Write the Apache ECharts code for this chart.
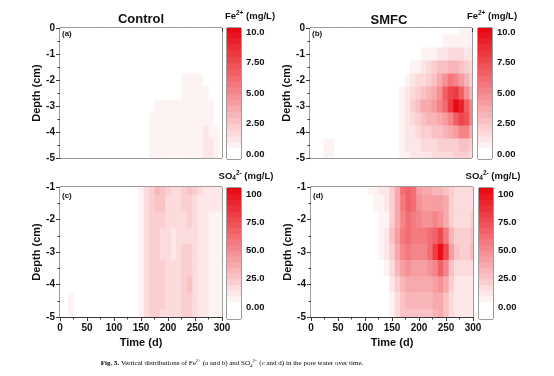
<!DOCTYPE html>
<html>
<head>
<meta charset="utf-8">
<script src="https://cdn.jsdelivr.net/npm/echarts@6/dist/echarts.min.js"></script>
<style>
html, body { margin: 0; padding: 0; background: #fff; }
#main { width: 554px; height: 376px; }
</style>
</head>
<body>
<div id="main"></div>
<script>
// sampling grid (time in days, depth in cm)
var times = [0, 10, 20, 30, 40, 50, 60, 70, 80, 90, 100, 110, 120, 130, 140, 150, 160, 170, 180, 190,
    200, 210, 220, 230, 240, 250, 260, 270, 280, 290, 300];
var feDepths = [0, -0.5, -1, -1.5, -2, -2.5, -3, -3.5, -4, -4.5, -5];
var soDepths = [-1, -1.5, -2, -2.5, -3, -3.5, -4, -4.5, -5];

// Fe2+ (mg/L), control, one row per depth
var feControl = [
    [0,0,0,0,0,0,0,0,0,0, 0,0,0,0,0,0,0,0,0,0, 0,0,0,0,0,0,0,0,0,0, 0],
    [0,0,0,0,0,0,0,0,0,0, 0,0,0,0,0,0,0,0,0,0, 0,0,0,0,0,0,0,0,0,0, 0],
    [0,0,0,0,0,0,0,0,0,0, 0,0,0,0,0,0,0,0,0,0, 0,0,0,0,0,0,0,0,0,0, 0],
    [0,0,0,0,0,0,0,0,0,0, 0,0,0,0,0,0,0,0,0,0, 0,0,0,0.3,0.4,0.4,0.3,0,0,0, 0],
    [0,0,0,0,0,0,0,0,0,0, 0,0,0,0,0,0,0,0,0,0, 0,0,0.3,0.5,0.5,0.5,0.5,0.3,0,0, 0],
    [0,0,0,0,0,0,0,0,0,0, 0,0,0,0,0,0,0,0.2,0.3,0.3, 0.3,0.3,0.4,0.5,0.5,0.6,0.6,0.5,0.3,0, 0],
    [0,0,0,0,0.2,0,0,0,0,0, 0,0,0,0,0,0,0.2,0.4,0.5,0.5, 0.5,0.5,0.5,0.6,0.6,0.6,0.6,0.6,0.5,0.3, 0],
    [0,0,0,0,0.3,0,0,0,0,0, 0,0,0,0,0,0,0.3,0.5,0.6,0.6, 0.6,0.6,0.6,0.6,0.5,0.6,0.7,0.7,0.6,0.4, 0],
    [0,0,0,0,0.3,0.2,0,0,0,0, 0,0,0,0,0,0,0.3,0.5,0.6,0.7, 0.7,0.6,0.6,0.5,0.5,0.6,0.8,1.0,0.8,0.5, 0],
    [0,0,0,0.2,0.3,0.3,0,0,0,0, 0,0,0,0,0,0,0.3,0.5,0.6,0.7, 0.7,0.6,0.6,0.6,0.6,0.7,0.9,1.3,1.1,0.6, 0],
    [0,0,0,0.3,0.4,0.3,0,0,0,0, 0,0,0,0,0,0,0.3,0.5,0.6,0.6, 0.6,0.6,0.6,0.6,0.6,0.7,0.9,1.3,1.0,0.5, 0]
];

// Fe2+ (mg/L), SMFC
var feSMFC = [
    [0,0,0,0,0,0,0,0,0,0, 0,0,0,0,0,0,0,0,0,0, 0,0,0,0,0,0.2,0.3,0.4,0.5,0.5, 0.5],
    [0,0,0,0,0,0,0,0,0,0, 0,0,0,0,0,0,0,0,0,0, 0,0,0,0.2,0.4,0.5,0.6,0.7,0.8,0.8, 0.7],
    [0,0,0,0,0,0,0,0,0,0, 0,0,0,0,0,0,0,0,0,0, 0.3,0.5,0.7,0.9,1.1,1.3,1.5,1.6,1.6,1.4, 1.2],
    [0,0,0,0,0,0,0,0,0,0, 0,0,0,0,0,0,0,0,0.3,0.6, 0.9,1.2,1.6,2.0,2.5,2.9,3.2,3.2,2.8,2.2, 1.6],
    [0,0,0,0,0,0,0,0,0,0, 0,0,0,0,0,0,0,0.3,0.7,1.1, 1.5,1.9,2.3,2.8,3.8,4.8,5.6,5.4,4.2,3.0, 2.2],
    [0,0,0,0,0,0,0,0,0,0, 0,0,0,0,0,0,0.2,0.6,1.0,1.7, 2.3,2.8,3.3,3.8,4.6,6.5,7.8,8.2,6.5,4.8, 3.2],
    [0,0,0,0,0,0,0,0,0,0, 0,0,0,0,0,0,0.3,0.6,1.2,2.0, 2.8,3.5,3.8,4.1,5.0,6.2,8.3,10.2,9.0,6.8, 5.0],
    [0,0,0,0,0,0,0,0,0,0, 0,0,0,0,0,0,0.3,0.7,1.2,1.8, 2.3,2.8,3.1,3.3,3.6,4.3,5.2,6.8,7.6,7.0, 5.2],
    [0,0,0,0.3,0.4,0,0,0,0,0, 0,0,0,0,0,0,0.3,0.7,1.0,1.4, 1.8,2.1,2.3,2.5,2.7,3.0,3.5,4.2,5.0,5.0, 3.6],
    [0,0,0,0.5,0.5,0,0,0,0,0, 0,0,0,0,0,0,0.3,0.7,1.0,1.2, 1.4,1.5,1.7,1.9,2.0,2.0,2.1,2.3,2.6,2.6, 2.0],
    [0,0,0,0.5,0.5,0.2,0,0,0,0, 0,0,0,0,0,0,0.2,0.5,0.8,1.0, 1.1,1.2,1.3,1.5,1.6,1.7,1.8,2.0,2.1,2.0, 1.5]
];

// SO4 2- (mg/L), control
var soControl = [
    [0,0,0,0,0,0,0,0,0,0, 0,0,0,1,4,9,16,24,32,28, 20,17,18,22,26,22,16,12,11,11, 11],
    [0,0,0,2,0,0,0,0,0,0, 0,0,0,1,4,9,16,23,28,25, 19,16,17,21,23,19,14,11,10,10, 10],
    [0,0,0,3,0,0,0,0,0,0, 0,0,0,0,3,8,15,21,23,21, 17,15,16,19,20,17,13,10,9,9, 9],
    [0,0,0,3,0,0,0,0,0,0, 0,0,0,0,3,8,15,20,21,19, 16,14,16,19,19,16,12,10,9,8, 8],
    [0,0,0,2,0,0,0,0,0,0, 0,0,0,0,3,8,15,20,21,19, 16,14,17,20,21,17,12,10,9,8, 8],
    [0,0,0,0,0,0,0,0,0,0, 0,0,0,0,3,8,16,21,22,20, 17,15,18,22,23,18,13,10,9,9, 9],
    [0,0,0,0,0,0,0,0,0,0, 0,0,0,0,3,9,16,22,23,21, 17,16,19,23,25,19,13,10,9,9, 9],
    [0,3,5,4,0,0,0,0,0,0, 0,0,0,0,3,8,16,21,22,20, 17,16,18,21,22,18,13,10,9,9, 9],
    [0,4,6,4,0,0,0,0,0,0, 0,0,0,0,2,7,15,20,21,19, 16,15,17,20,21,17,12,10,9,9, 9]
];

// SO4 2- (mg/L), SMFC
var soSMFC = [
    [0,0,0,0,0,0,0,0,0,0, 2,5,8,11,13,20,38,60,68,62, 42,37,36,32,30,28,22,19,16,15, 15],
    [0,0,0,0,0,0,0,0,0,0, 0,3,6,9,12,22,38,58,65,60, 48,42,40,42,42,35,24,19,17,17, 17],
    [0,0,0,0,0,0,0,0,0,0, 0,0,3,6,9,20,38,52,60,58, 54,48,46,50,48,36,24,19,17,18, 20],
    [0,0,0,0,0,0,0,0,0,0, 0,0,2,6,12,25,42,55,60,57, 55,55,60,68,78,58,30,22,20,22, 26],
    [0,0,0,0,0,0,0,0,0,0, 0,0,2,5,10,22,38,50,55,53, 50,54,60,82,100,75,40,26,21,24, 30],
    [0,0,0,0,0,0,0,0,0,0, 0,0,0,3,7,18,30,42,45,42, 40,42,45,52,65,52,28,18,15,15, 16],
    [0,0,0,0,0,0,0,0,0,0, 0,0,0,0,4,10,22,30,35,35, 35,35,38,42,45,36,22,14,12,12, 12],
    [0,0,0,0,0,0,0,0,0,0, 0,0,0,0,2,8,18,26,30,30, 30,30,32,35,35,25,16,12,11,10, 10],
    [0,0,0,0,0,0,0,0,0,0, 0,0,0,0,2,6,15,25,28,28, 26,25,28,33,35,28,15,11,10,10, 10]
];

// colour bar ticks
var feTicks = [0, 2.5, 5, 7.5, 10];
var feTickLabels = ['0.00', '2.50', '5.00', '7.50', '10.0'];
var soTicks = [0, 25, 50, 75, 100];
var soTickLabels = ['0.00', '25.0', '50.0', '75.0', '100'];

var font = 'Liberation Sans, Arial, sans-serif';
var frame = '#3a3a3a';

// contour levels: edges of the colour bands
function levels(lo, step, hi) {
    var out = [lo];
    for (var v = 0; v <= hi + 1e-9; v += step) {
        if (v > lo) out.push(+v.toFixed(3));
    }
    return out;
}
var feEdges = levels(-0.4, 0.5, 10.5);
var soEdges = levels(-10.6, 5, 110);

function colorAt(v, max) {
    var f = Math.max(0, Math.min(1, v / max));
    var r = Math.round(255 - f * (255 - 232));
    var g = Math.round(255 - f * 255);
    var b = Math.round(255 - f * (255 - 10));
    return 'rgb(' + r + ',' + g + ',' + b + ')';
}

// each band takes the colour of its lower edge, so the 0 band stays white
function pieces(edges, max) {
    var list = [];
    for (var i = 0; i < edges.length - 1; i++) {
        list.push({ gte: edges[i], lt: edges[i + 1], color: colorAt(edges[i], max) });
    }
    return list;
}

function cells(grid, depths) {
    var out = [];
    for (var i = 0; i < depths.length; i++) {
        for (var j = 0; j < times.length; j++) {
            out.push([times[j], depths[i], grid[i][j]]);
        }
    }
    return out;
}

function bands(edges) {
    var out = [];
    for (var i = 0; i < edges.length - 1; i++) {
        out.push([edges[i], edges[i + 1], (edges[i] + edges[i + 1]) / 2]);
    }
    return out;
}

function cellItem(params, api) {
    var a = api.coord([api.value(0) - 5, api.value(1) + 0.25]);
    var b = api.coord([api.value(0) + 5, api.value(1) - 0.25]);
    var cs = params.coordSys;
    var rect = echarts.graphic.clipRectByRect(
        { x: a[0], y: a[1], width: b[0] - a[0] + 0.6, height: b[1] - a[1] + 0.6 },
        { x: cs.x, y: cs.y, width: cs.width, height: cs.height });
    return rect && { type: 'rect', shape: rect, style: { fill: api.visual('color') } };
}

function bandItem(params, api) {
    var a = api.coord([0, api.value(1)]);
    var b = api.coord([1, api.value(0)]);
    var cs = params.coordSys;
    var rect = echarts.graphic.clipRectByRect(
        { x: a[0], y: a[1], width: b[0] - a[0], height: b[1] - a[1] + 0.6 },
        { x: cs.x, y: cs.y, width: cs.width, height: cs.height });
    return rect && { type: 'rect', shape: rect, style: { fill: api.visual('color') } };
}

function timeAxis(gi, withLabels) {
    return {
        type: 'value', gridIndex: gi, min: 0, max: 300, interval: 50,
        name: withLabels ? 'Time (d)' : '', nameLocation: 'middle', nameGap: 20,
        nameTextStyle: { fontFamily: font, fontWeight: 'bold', fontSize: 11, color: '#111' },
        axisLine: { show: true, lineStyle: { color: frame, width: 1 } },
        axisTick: { show: true, length: 4, lineStyle: { color: frame } },
        minorTick: { show: true, splitNumber: 2, length: 2.5, lineStyle: { color: frame } },
        axisLabel: { show: withLabels, margin: 6, fontFamily: font, fontWeight: 'bold', fontSize: 10, color: '#111' },
        splitLine: { show: false }
    };
}

function depthAxis(gi, min, max) {
    return {
        type: 'value', gridIndex: gi, min: min, max: max, interval: 1,
        name: 'Depth (cm)', nameLocation: 'middle', nameGap: 17,
        nameTextStyle: { fontFamily: font, fontWeight: 'bold', fontSize: 11, color: '#111' },
        axisLine: { show: true, lineStyle: { color: frame, width: 1 } },
        axisTick: { show: true, length: 4, lineStyle: { color: frame } },
        minorTick: { show: true, splitNumber: 2, length: 2.5, lineStyle: { color: frame } },
        axisLabel: { margin: 5, fontFamily: font, fontWeight: 'bold', fontSize: 10, color: '#111' },
        splitLine: { show: false }
    };
}

function barX(gi) {
    return { type: 'value', gridIndex: gi, min: 0, max: 1, show: false };
}

function barY(gi, min, max, ticks, labels) {
    return {
        type: 'value', gridIndex: gi, min: min, max: max, position: 'right',
        axisLine: { show: false },
        axisTick: { show: true, length: 3, customValues: ticks, lineStyle: { color: frame } },
        axisLabel: {
            show: true, margin: 5, customValues: ticks, fontFamily: font, fontWeight: 'bold', fontSize: 9.5, color: '#111',
            formatter: function (v) { return labels[ticks.indexOf(v)]; }
        },
        splitLine: { show: false }
    };
}

var grids = [
    { left: 60, top: 28, width: 162, height: 130 },
    { left: 310, top: 28, width: 162, height: 130 },
    { left: 60, top: 187, width: 162, height: 130 },
    { left: 311, top: 187, width: 162, height: 130 },
    { left: 227, top: 28, width: 14, height: 131 },
    { left: 478, top: 28, width: 14, height: 131 },
    { left: 227, top: 188, width: 14, height: 131 },
    { left: 479, top: 188, width: 14, height: 131 }
];
grids.forEach(function (g) {
    g.show = true;
    g.borderColor = frame;
    g.borderWidth = 1;
    g.backgroundColor = 'transparent';
});

var rich = {
    sup: { fontFamily: font, fontWeight: 'bold', fontSize: 6.5, verticalAlign: 'top', lineHeight: 12 },
    sub: { fontFamily: font, fontWeight: 'bold', fontSize: 6.5, verticalAlign: 'bottom', lineHeight: 12 }
};

function label(text, x, y, size, align) {
    return {
        type: 'text', x: x, y: y, z: 100,
        style: {
            text: text, fill: '#111', font: 'bold ' + size + 'px ' + font,
            textAlign: align || 'center', textVerticalAlign: 'middle', lineHeight: 12,
            rich: rich
        }
    };
}

var serif = 'Liberation Serif, serif';
var capRich = {
    b: { fontFamily: serif, fontWeight: 'bold', fontSize: 7 },
    sup: { fontFamily: serif, fontSize: 4.8, verticalAlign: 'top', lineHeight: 10 },
    sub: { fontFamily: serif, fontSize: 4.8, verticalAlign: 'bottom', lineHeight: 10 }
};

var option = {
    backgroundColor: '#fff',
    animation: false,
    grid: grids,
    xAxis: [timeAxis(0, false), timeAxis(1, false), timeAxis(2, true), timeAxis(3, true),
        barX(4), barX(5), barX(6), barX(7)],
    yAxis: [depthAxis(0, -5, 0), depthAxis(1, -5, 0), depthAxis(2, -5, -1), depthAxis(3, -5, -1),
        barY(4, -0.4, 10.33, feTicks, feTickLabels), barY(5, -0.4, 10.33, feTicks, feTickLabels),
        barY(6, -10.6, 105.3, soTicks, soTickLabels), barY(7, -10.6, 105.3, soTicks, soTickLabels)],
    visualMap: [
        { type: 'piecewise', show: false, dimension: 2, seriesIndex: [0, 1, 4, 5], pieces: pieces(feEdges, 10.33) },
        { type: 'piecewise', show: false, dimension: 2, seriesIndex: [2, 3, 6, 7], pieces: pieces(soEdges, 105.3) }
    ],
    series: [
        { type: 'custom', xAxisIndex: 0, yAxisIndex: 0, renderItem: cellItem, data: cells(feControl, feDepths), encode: { x: 0, y: 1 } },
        { type: 'custom', xAxisIndex: 1, yAxisIndex: 1, renderItem: cellItem, data: cells(feSMFC, feDepths), encode: { x: 0, y: 1 } },
        { type: 'custom', xAxisIndex: 2, yAxisIndex: 2, renderItem: cellItem, data: cells(soControl, soDepths), encode: { x: 0, y: 1 } },
        { type: 'custom', xAxisIndex: 3, yAxisIndex: 3, renderItem: cellItem, data: cells(soSMFC, soDepths), encode: { x: 0, y: 1 } },
        { type: 'custom', xAxisIndex: 4, yAxisIndex: 4, renderItem: bandItem, data: bands(feEdges), encode: { y: [0, 1] } },
        { type: 'custom', xAxisIndex: 5, yAxisIndex: 5, renderItem: bandItem, data: bands(feEdges), encode: { y: [0, 1] } },
        { type: 'custom', xAxisIndex: 6, yAxisIndex: 6, renderItem: bandItem, data: bands(soEdges), encode: { y: [0, 1] } },
        { type: 'custom', xAxisIndex: 7, yAxisIndex: 7, renderItem: bandItem, data: bands(soEdges), encode: { y: [0, 1] } }
    ],
    graphic: [
        label('Control', 141, 19, 13),
        label('SMFC', 389, 20, 13),
        label('Fe{sup|2+} (mg/L)', 250, 16, 9.5),
        label('Fe{sup|2+} (mg/L)', 492, 16, 9.5),
        label('SO{sub|4}{sup|2-} (mg/L)', 246, 176, 9.5),
        label('SO{sub|4}{sup|2-} (mg/L)', 493, 176, 9.5),
        label('(a)', 62, 34, 8, 'left'),
        label('(b)', 312, 34, 8, 'left'),
        label('(c)', 62, 196, 8, 'left'),
        label('(d)', 313, 196, 8, 'left'),
        {
            type: 'text', x: 232, y: 363, z: 100,
            style: {
                text: '{b|Fig. 5.} Vertical distributions of Fe{sup|2+} (a and b) and SO{sub|4}{sup|2\u2212} (c and d) in the pore water over time.',
                fill: '#000', font: '7px ' + serif, textAlign: 'center', textVerticalAlign: 'middle',
                lineHeight: 10, rich: capRich
            }
        }
    ]
};

var chart = echarts.init(document.getElementById('main'), null, { renderer: 'canvas' });
chart.setOption(option);
</script>
</body>
</html>
